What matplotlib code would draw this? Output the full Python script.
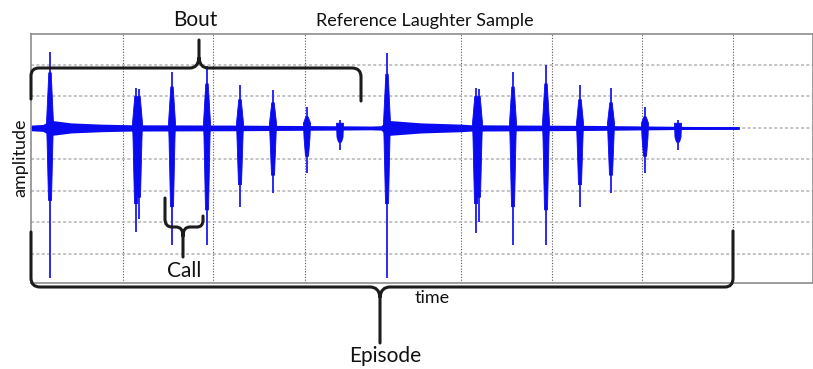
import matplotlib
matplotlib.use("Agg")
import matplotlib.pyplot as plt
from matplotlib.path import Path
from matplotlib.patches import PathPatch

plt.rcParams['font.family'] = ['Lato', 'DejaVu Sans']

# burst positions (time units) and amplitudes
burst_t = [19, 105, 108, 141, 176, 209, 242, 276, 309,
           356, 445, 448, 482, 515, 549, 580, 614, 647]
burst_hi = [2.41, 1.27, 1.22, 1.78, 1.97, 1.37, 1.20, 0.67, 0.25,
            2.38, 1.27, 1.22, 1.78, 2.00, 1.37, 1.27, 0.67, 0.25]
burst_lo = [-4.76, -3.30, -2.90, -3.71, -3.70, -2.50, -2.06, -1.43, -0.70,
            -4.76, -3.33, -3.00, -3.71, -3.71, -2.50, -2.06, -1.43, -0.70]
core_hi = [1.75, 1.00, 1.00, 1.30, 1.40, 0.90, 0.80, 0.35, 0.15,
           1.70, 1.00, 1.00, 1.30, 1.40, 0.90, 0.80, 0.35, 0.15]
core_lo = [-2.30, -2.40, -2.20, -2.50, -2.60, -1.80, -1.50, -0.90, -0.45,
           -2.40, -2.40, -2.20, -2.50, -2.60, -1.80, -1.50, -0.90, -0.45]

# background noise envelope
noise_t = [0, 12, 19, 25, 40, 70, 100, 200, 300, 340, 350, 356, 365,
           390, 430, 440, 560, 620, 680, 707]
noise_amp = [0.09, 0.11, 0.24, 0.22, 0.16, 0.12, 0.10, 0.09, 0.07, 0.06,
             0.07, 0.24, 0.22, 0.16, 0.12, 0.10, 0.08, 0.06, 0.04, 0.035]

vgrid = [92, 182, 274, 430, 521, 611, 702]
hgrid = [-4, -3, -2, -1, 0, 1, 2]

W, H = 813, 369
fig = plt.figure(figsize=(W / 100, H / 100), dpi=100)
ax = fig.add_axes([31 / W, 1 - 283 / H, 782 / W, 249 / H])
ax.set_xlim(0, 782)
ax.set_ylim(-4.92, 2.98)
ax.set_xticks([])
ax.set_yticks([])
for s in ax.spines.values():
    s.set_color('#8c8c8c')
    s.set_linewidth(1.2)

for v in vgrid:
    ax.axvline(v, color='#585858', lw=0.8, ls=(0, (1, 1.5)), zorder=1)
for h in hgrid:
    ax.axhline(h, color='#b4b4b4', lw=1.1, ls=(0, (2, 1.5)), zorder=1)

blue = '#0a0af0'
ax.plot([0, 707], [0, 0], color=blue, lw=2, zorder=2)
ax.fill_between(noise_t, [-a for a in noise_amp], noise_amp, color=blue, lw=0, zorder=2)
for t, hi, lo, ch, cl in zip(burst_t, burst_hi, burst_lo, core_hi, core_lo):
    ax.vlines(t, lo, hi, color='#2a2af5', lw=1.4, zorder=3)
    ax.fill([t - 1.2, t + 1.2, t + 3.5, t + 3, t + 1.5, t - 1.5, t - 3, t - 3.5],
            [ch, ch, 0.15, -0.3, cl, cl, -0.3, 0.15], color=blue, lw=0.6, zorder=3)


def fx(x, y):
    return (x / W, 1 - y / H)


def brace(segs):
    verts, codes = [], []
    for seg in segs:
        for kind, pt in seg:
            verts.append(fx(*pt))
            codes.append({'M': Path.MOVETO, 'L': Path.LINETO, 'Q': Path.CURVE3}[kind])
    p = PathPatch(Path(verts, codes), transform=fig.transFigure, fill=False,
                  edgecolor='#1c1c1c', lw=2.2, capstyle='round', joinstyle='round')
    fig.add_artist(p)


# Bout
brace([
    [('M', (31, 99)), ('L', (31, 76)), ('Q', (31, 68)), ('Q', (39, 68)), ('L', (190, 68)),
     ('Q', (198, 68)), ('Q', (199, 58)), ('L', (199, 40))],
    [('M', (199, 58)), ('Q', (200, 68)), ('Q', (208, 68)), ('L', (352, 68)),
     ('Q', (361, 68)), ('Q', (361, 77)), ('L', (361, 101))],
])
# Call
brace([
    [('M', (165, 198)), ('L', (165, 219)), ('Q', (165, 227)), ('Q', (172, 227)), ('L', (176, 227)),
     ('Q', (183, 227)), ('Q', (183, 236)), ('L', (183, 257))],
    [('M', (183, 236)), ('Q', (183, 227)), ('Q', (190, 227)), ('L', (197, 227)),
     ('Q', (203, 227)), ('Q', (203, 220)), ('L', (203, 216))],
])
# Episode
brace([
    [('M', (31, 232)), ('L', (31, 278)), ('Q', (31, 287)), ('Q', (40, 287)), ('L', (370, 287)),
     ('Q', (379, 287)), ('Q', (380, 297)), ('L', (380, 343))],
    [('M', (380, 297)), ('Q', (381, 287)), ('Q', (390, 287)), ('L', (725, 287)),
     ('Q', (733, 287)), ('Q', (733, 278)), ('L', (733, 231))],
])

txt = dict(ha='center', va='center', color='#111111', transform=fig.transFigure)
fig.text(*fx(195, 20), 'Bout', fontsize=15, **txt)
fig.text(*fx(425, 21), 'Reference Laughter Sample', fontsize=13, **txt)
fig.text(*fx(184, 271), 'Call', fontsize=15, **txt)
fig.text(*fx(385, 356), 'Episode', fontsize=15, **txt)
fig.text(*fx(432, 298), 'time', fontsize=13, **txt)
fig.text(*fx(20, 158), 'amplitude', fontsize=13, rotation=90, **txt)

fig.savefig('out.png', dpi=100)
